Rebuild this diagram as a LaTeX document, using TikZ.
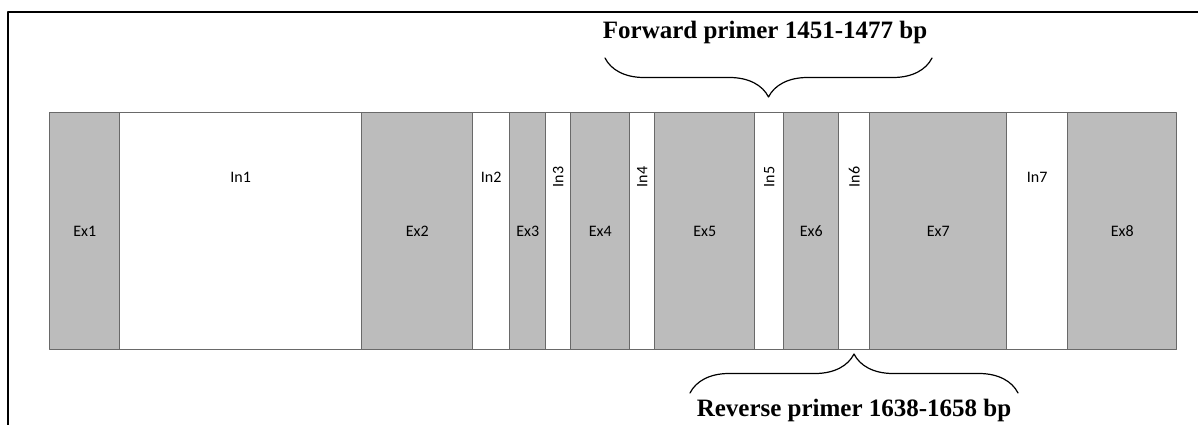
\documentclass[tikz,border=0pt]{standalone}
\usepackage{fontspec}
\setmainfont{Liberation Serif}
\newfontfamily\lblfont{Carlito}
\usetikzlibrary{decorations.pathreplacing}
\definecolor{segline}{RGB}{105,105,105}
\definecolor{exongray}{RGB}{188,188,188}

\begin{document}
\begin{tikzpicture}[
  x=1pt,y=-1pt,
  seg/.style={draw=segline,line width=1.4pt,inner sep=0pt,
    minimum height=237pt,anchor=north west,font=\lblfont\fontsize{16}{18}\selectfont},
  exon/.style={seg,fill=exongray},
  intron/.style={seg,fill=white},
  lbl/.style={font=\lblfont\fontsize{16}{18}\selectfont,inner sep=0pt},
  primer/.style={font=\bfseries\fontsize{25}{29}\selectfont,inner sep=0pt,anchor=base},
  pbrace/.style={decorate,decoration={brace,amplitude=39pt},line width=1.2pt},
  every path/.style={line cap=round,line join=round}
]
  \useasboundingbox (0,0) rectangle (1198,425);
  \draw[line width=2pt] (8,425) -- (8,12) -- (1198,12);

  % exons and introns along the gene
  \node[exon,minimum width=70pt]    (ex1) at (49,112)   {Ex1};
  \node[intron,minimum width=242pt] (in1) at (119,112)  {};
  \node[exon,minimum width=111pt]   (ex2) at (361,112)  {Ex2};
  \node[intron,minimum width=37pt]  (in2) at (472,112)  {};
  \node[exon,minimum width=36pt]    (ex3) at (509,112)  {Ex3};
  \node[intron,minimum width=25pt]  (in3) at (545,112)  {};
  \node[exon,minimum width=59pt]    (ex4) at (570,112)  {Ex4};
  \node[intron,minimum width=25pt]  (in4) at (629,112)  {};
  \node[exon,minimum width=100pt]   (ex5) at (654,112)  {Ex5};
  \node[intron,minimum width=29pt]  (in5) at (754,112)  {};
  \node[exon,minimum width=55pt]    (ex6) at (783,112)  {Ex6};
  \node[intron,minimum width=31pt]  (in6) at (838,112)  {};
  \node[exon,minimum width=137pt]   (ex7) at (869,112)  {Ex7};
  \node[intron,minimum width=61pt]  (in7) at (1006,112) {};
  \node[exon,minimum width=109pt]   (ex8) at (1067,112) {Ex8};

  % intron labels
  \node[lbl] (in1-txt) at (in1 |- 0,177) {In1};
  \node[lbl] (in2-txt) at (in2 |- 0,177) {In2};
  \node[lbl,rotate=90] (in3-txt) at (in3 |- 0,177) {In3};
  \node[lbl,rotate=90] (in4-txt) at (in4 |- 0,177) {In4};
  \node[lbl,rotate=90] (in5-txt) at (in5 |- 0,177) {In5};
  \node[lbl,rotate=90] (in6-txt) at (in6 |- 0,177) {In6};
  \node[lbl] (in7-txt) at (in7 |- 0,177) {In7};

  % primers
  \node[primer] (fwd) at (765,39) {Forward primer 1451-1477 bp};
  \coordinate (fwd-l) at (605,58);
  \coordinate (fwd-r) at (932,58);
  \draw[pbrace] (fwd-r) -- (fwd-l);

  \node[primer] (rev) at (854,416) {Reverse primer 1638-1658 bp};
  \coordinate (rev-l) at (690,393);
  \coordinate (rev-r) at (1018,393);
  \draw[pbrace] (rev-l) -- (rev-r);
\end{tikzpicture}
\end{document}
